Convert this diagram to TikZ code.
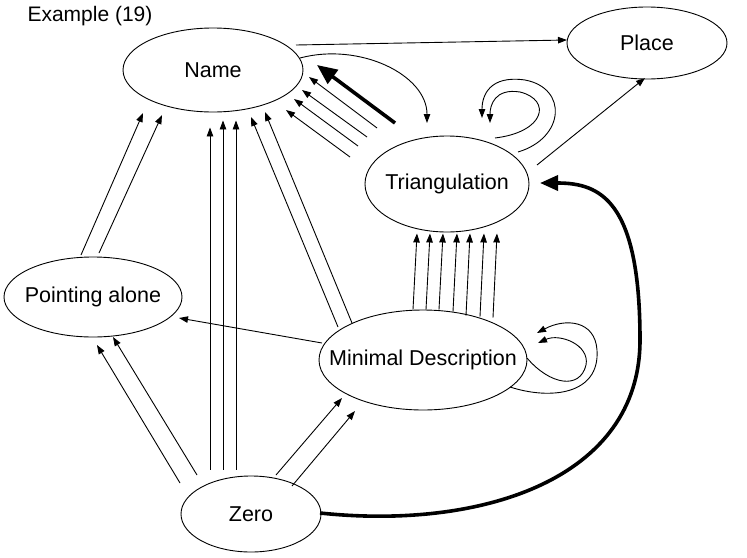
\documentclass[tikz,border=0pt]{standalone}
\usepackage{fontspec}
\setmainfont{Liberation Sans}
\usepackage{tikz}
\usetikzlibrary{positioning, arrows.meta, calc, shapes.geometric}
\newcommand{\ntext}[1]{\makebox[0pt]{#1}}

\begin{document}
\begin{tikzpicture}[x=1pt, y=1pt,
    state/.style={draw, ellipse, line width=0.9pt, inner sep=0pt,
                  font=\fontsize{21.5}{25}\selectfont},
    arr/.style={line width=0.9pt, -{Triangle[length=9pt, width=6.5pt]}},
    heavy/.style={line width=3.6pt, -{Triangle[length=20pt, width=17pt]}}]
  \useasboundingbox (0,0) rectangle (747,-557);

  \node[anchor=west, font=\fontsize{21}{25}\selectfont] (title) at (24,-16) {Example (19)};

  \node[state, minimum width=180pt, minimum height=84pt]  (name)  at (213,-70)  {\ntext{Name}};
  \node[state, minimum width=160pt, minimum height=72pt]  (place) at (647,-43)  {\ntext{Place}};
  \node[state, minimum width=164pt, minimum height=96pt]  (tri)   at (447,-184) {\ntext{Triangulation}};
  \node[state, minimum width=178pt, minimum height=80pt]  (point) at (93,-297)  {\ntext{Pointing alone}};
  \node[state, minimum width=208pt, minimum height=100pt] (mind)  at (423,-360) {\ntext{Minimal Description}};
  \node[state, minimum width=140pt, minimum height=76pt]  (zero)  at (251,-514) {\ntext{Zero}};

  \foreach \dx/\tx/\ty in {-41/-3/-15, -28/10/-8, -15/23/-8}
    \draw[arr] ([shift={(\dx,6)}]zero.north) -- ([shift={(\tx,\ty)}]name.south);
  \foreach \a/\b/\c/\d in {-71/31/4/-48, -54/39/20/-40}
    \draw[arr] ([shift={(\a,\b)}]zero.center) -- ([shift={(\c,\d)}]point.center);
  \foreach \a/\b/\c/\d in {25/39/-81/-38, 41/28/-68/-51}
    \draw[arr] ([shift={(\a,\b)}]zero.center) -- ([shift={(\c,\d)}]mind.center);
  \foreach \a/\b/\c/\d in {-12/42/-70/-43, 6/44/-51/-45}
    \draw[arr] ([shift={(\a,\b)}]point.center) -- ([shift={(\c,\d)}]name.center);
  \foreach \a/\b/\c/\d in {-85/33/38/-47, -71/37/52/-42}
    \draw[arr] ([shift={(\a,\b)}]mind.center) -- ([shift={(\c,\d)}]name.center);
  \foreach \dx/\dy in {-10/0, 3/0, 16/0, 30/-2, 43/-6, 57/-7, 70/-8}
    \draw[arr] ([shift={(\dx,\dy)}]mind.north) -- ([shift={(\dx-20,-1)}]tri.south);
  \foreach \a/\b/\c/\d in {-70/56/96/-7, -80/47/89/-20, -89/38/81/-29, -97/27/73/-40}
    \draw[arr] ([shift={(\a,\b)}]tri.center) -- ([shift={(\c,\d)}]name.center);
  \draw[heavy] ([shift={(-52,61)}]tri.center) -- ([shift={(104,5)}]name.center);

  \draw[arr] ([shift={(-101,17)}]mind.center) -- ([shift={(86,-21)}]point.center);
  \draw[arr] ([shift={(83,25)}]name.center) -- ([shift={(-80,3)}]place.center);
  \draw[arr] ([shift={(90,19)}]tri.center) -- ([shift={(-2,-35)}]place.center);
  \draw[arr] ([shift={(87,12)}]name.center) .. controls +(60,16) and +(0,48) .. ([shift={(-20,61)}]tri.center);

  \draw[arr] ([shift={(48,46)}]tri.center) .. controls +(50,6) and +(32,-8) .. (520,-92)
    .. controls +(-25,4) and +(0,18) .. ([shift={(43,61)}]tri.center);
  \draw[arr] ([shift={(71,32)}]tri.center) .. controls +(47,14) and +(43,-8) .. (525,-80)
    .. controls +(-35,5) and +(0,23) .. ([shift={(35,66)}]tri.center);

  \draw[arr] ([shift={(104,2)}]mind.center) .. controls +(23,-27) and +(-6,-25) .. (586,-365)
    .. controls +(4,20) and +(22,10) .. ([shift={(115,17)}]mind.center);
  \draw[arr] ([shift={(87,-27)}]mind.center) .. controls +(40,-13) and +(3,-45) .. (597,-350)
    .. controls +(-2,30) and +(28,15) .. ([shift={(114,27)}]mind.center);

  \coordinate (bend) at (640,-340);
  \draw[heavy, -{Triangle[length=18pt, width=15pt]}] ([shift={(69,1)}]zero.center)
    .. controls +(160,-17) and +(0,-140) .. (bend)
    .. controls +(0,140) and +(60,0) .. ([shift={(93,1)}]tri.center);
\end{tikzpicture}
\end{document}
